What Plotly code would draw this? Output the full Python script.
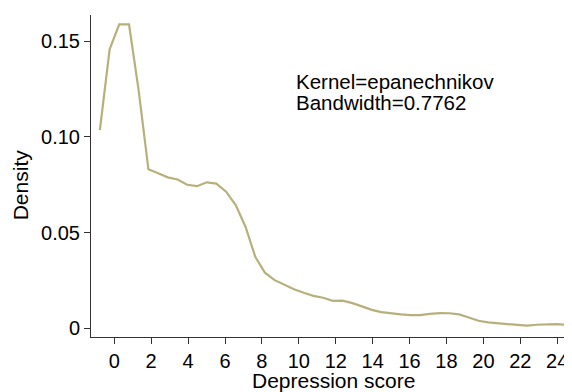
import plotly.graph_objects as go

# Kernel density estimate of depression score (50 evaluation points)
score = [-0.78, -0.25, 0.27, 0.80, 1.32, 1.85, 2.38, 2.90, 3.43, 3.95,
         4.48, 5.01, 5.53, 6.06, 6.58, 7.11, 7.64, 8.16, 8.69, 9.21,
         9.74, 10.27, 10.79, 11.32, 11.84, 12.37, 12.90, 13.42, 13.95, 14.47,
         15.00, 15.53, 16.05, 16.58, 17.10, 17.63, 18.16, 18.68, 19.21, 19.73,
         20.26, 20.79, 21.31, 21.84, 22.36, 22.89, 23.42, 23.94, 24.47, 24.99]
density = [0.1036, 0.1458, 0.1588, 0.1588, 0.1245, 0.0831, 0.0810, 0.0789, 0.0778, 0.0750,
           0.0743, 0.0763, 0.0756, 0.0714, 0.0644, 0.0531, 0.0374, 0.0291, 0.0252, 0.0230,
           0.0204, 0.0186, 0.0170, 0.0160, 0.0144, 0.0145, 0.0132, 0.0115, 0.0097, 0.0085,
           0.0078, 0.0073, 0.0069, 0.0069, 0.0076, 0.0080, 0.0079, 0.0073, 0.0057, 0.0040,
           0.0031, 0.0026, 0.0021, 0.0016, 0.0014, 0.0019, 0.0022, 0.0022, 0.0019, 0.0014]

x_ticks = [0, 2, 4, 6, 8, 10, 12, 14, 16, 18, 20, 22, 24]
y_ticks = [0, 0.05, 0.10, 0.15]
y_tick_labels = ["0", "0.05", "0.10", "0.15"]
note_lines = ["Kernel=epanechnikov", "Bandwidth=0.7762"]
x_title = "Depression score"
y_title = "Density"

FONT = "Arial, Liberation Sans, Helvetica, sans-serif"
LINE_COLOR = "#b8b07a"
AXIS_COLOR = "#333333"

fig = go.Figure()
fig.add_trace(go.Scatter(x=score, y=density, mode="lines",
                         line=dict(color=LINE_COLOR, width=2.2),
                         showlegend=False, hoverinfo="x+y"))

# The page body keeps its default 8px margin, so the figure is sized 8px
# smaller than the window and the margins are reduced accordingly.
fig.update_layout(
    width=564, height=384,
    margin=dict(l=83, r=0, t=7, b=55, autoexpand=False),
    paper_bgcolor="white", plot_bgcolor="white",
    font=dict(family=FONT, size=20, color="black"),
    xaxis=dict(range=[-1.26, 24.8], tickmode="array", tickvals=x_ticks,
               automargin=False,
               showgrid=False, zeroline=False, showline=True,
               linecolor=AXIS_COLOR, linewidth=1,
               ticks="outside", ticklen=6, tickcolor=AXIS_COLOR, tickwidth=1,
               tickfont=dict(family=FONT, size=20, color="black")),
    yaxis=dict(range=[-0.0045, 0.1637], tickmode="array", tickvals=y_ticks,
               ticktext=y_tick_labels, automargin=False,
               showgrid=False, zeroline=False, showline=True,
               linecolor=AXIS_COLOR, linewidth=1,
               ticks="outside", ticklen=6, tickcolor=AXIS_COLOR, tickwidth=1,
               tickfont=dict(family=FONT, size=20, color="black")),
)

fig.add_annotation(text=note_lines[0], xref="paper", yref="paper",
                   x=0.422, y=0.795, xanchor="left", yanchor="middle",
                   showarrow=False, font=dict(family=FONT, size=20.5, color="black"))
fig.add_annotation(text=note_lines[1], xref="paper", yref="paper",
                   x=0.422, y=0.727, xanchor="left", yanchor="middle",
                   showarrow=False, font=dict(family=FONT, size=20.5, color="black"))
fig.add_annotation(text=x_title, xref="paper", yref="paper",
                   x=0.505, y=-0.136, xanchor="center", yanchor="middle",
                   showarrow=False, font=dict(family=FONT, size=21, color="black"))
fig.add_annotation(text=y_title, xref="paper", yref="paper", textangle=-90,
                   x=-0.147, y=0.472, xanchor="center", yanchor="middle",
                   showarrow=False, font=dict(family=FONT, size=21, color="black"))

fig.write_html("out.html")
